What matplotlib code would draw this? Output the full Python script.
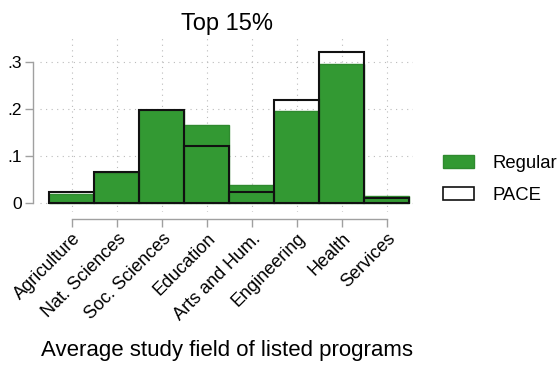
import numpy as np
import matplotlib.pyplot as plt
from matplotlib.patches import Patch

plt.rcParams['font.family'] = ['Liberation Sans', 'DejaVu Sans']

fields = ['Agriculture', 'Nat. Sciences', 'Soc. Sciences', 'Education',
          'Arts and Hum.', 'Engineering', 'Health', 'Services']
regular = [0.020, 0.065, 0.198, 0.167, 0.039, 0.197, 0.296, 0.015]
pace = [0.024, 0.066, 0.199, 0.121, 0.024, 0.221, 0.323, 0.011]
yticks = [0, 0.1, 0.2, 0.3]
ylabels = ['0', '.1', '.2', '.3']

fig = plt.figure(figsize=(5.57, 3.65), dpi=100)
ax = fig.add_axes([0.0718, 0.419, 0.6697, 0.477])

x = np.arange(len(fields))
green = '#339933'
ax.bar(x, regular, width=1.0, color=green, edgecolor='#2f8a2f', linewidth=1.0, zorder=2)
ax.bar(x, pace, width=1.0, facecolor='none', edgecolor='#111111', linewidth=1.5, zorder=3)

ax.set_xlim(-0.71, 7.58)
ax.set_ylim(-0.0186, 0.352)

ax.grid(True, linestyle=(0, (1, 4)), color='#bbbbbb', linewidth=0.8, zorder=0)
ax.set_axisbelow(True)

for s in ['top', 'right']:
    ax.spines[s].set_visible(False)
ax.spines['left'].set_position(('outward', 5))
ax.spines['bottom'].set_position(('outward', 5))
ax.spines['left'].set_bounds(0, 0.3)
ax.spines['bottom'].set_bounds(0, 7)
for s in ['left', 'bottom']:
    ax.spines[s].set_color('#a0a0a0')
    ax.spines[s].set_linewidth(1.0)
ax.tick_params(axis='both', color='#a0a0a0', length=6, width=1.0, pad=2)

ax.set_xticks(x)
ax.set_xticklabels(fields, fontsize=13)
plt.setp(ax.get_xticklabels(), rotation=45, ha='right', rotation_mode='anchor')
ax.set_yticks(yticks)
ax.set_yticklabels(ylabels, fontsize=12.5)

ax.set_xlabel('Average study field of listed programs', fontsize=16, labelpad=12)
ax.set_title('Top 15%', fontsize=17, pad=6)

handles = [Patch(facecolor=green, edgecolor='#2f8a2f', label='Regular'),
           Patch(facecolor='white', edgecolor='#111111', linewidth=1.2, label='PACE')]
fig.legend(handles=handles, loc='center left', bbox_to_anchor=(0.765, 0.509),
           frameon=False, fontsize=13.3, handlelength=1.68, handleheight=0.71,
           labelspacing=0.8, handletextpad=1.03)

fig.savefig('out.png', dpi=100)
